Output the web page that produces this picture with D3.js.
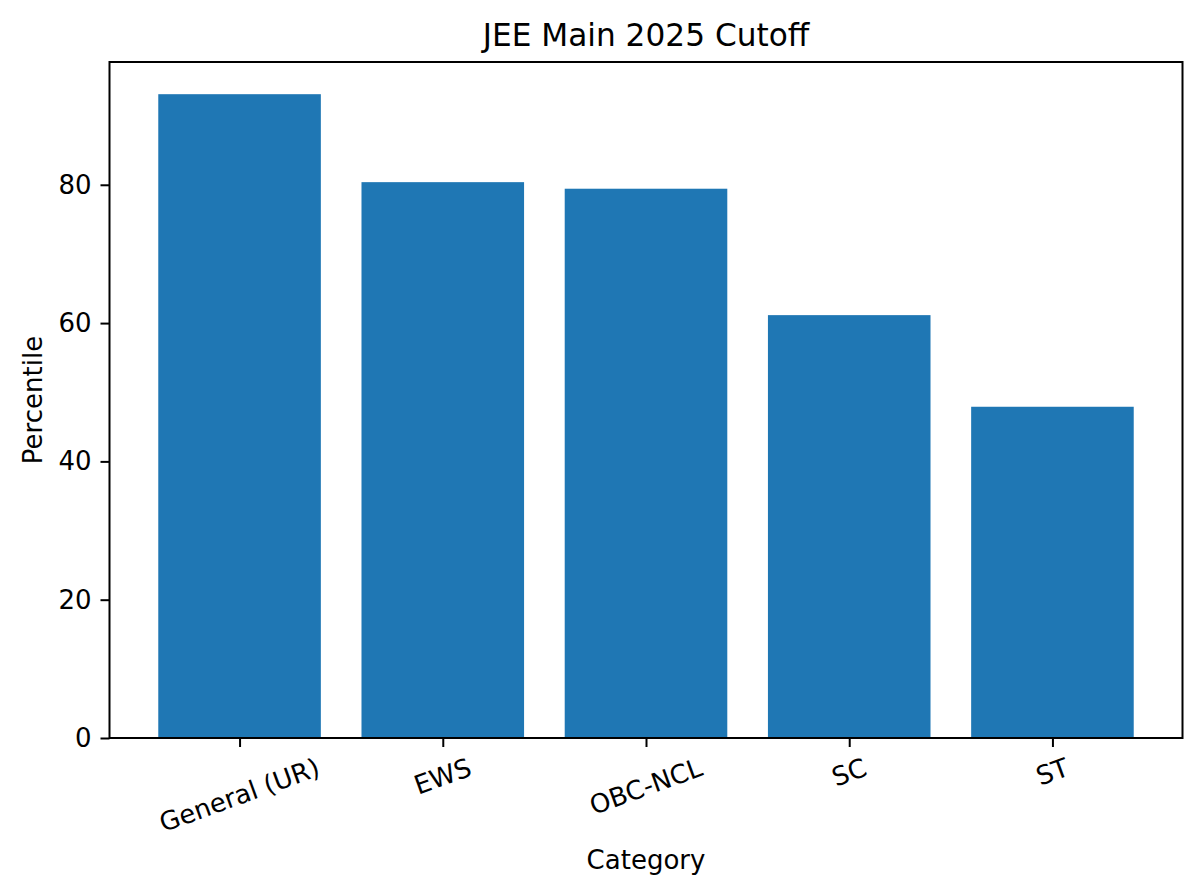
<!DOCTYPE html>
<html>
<head>
<meta charset="utf-8">
<script src="https://cdn.jsdelivr.net/npm/d3@7"></script>
<style>
  body { margin: 0; background: #fff; }
  text { font-family: "DejaVu Sans", sans-serif; fill: #000; }
  .axis path, .axis line { stroke: #000; stroke-width: 2px; }
  .axis text { font-size: 26px; }
</style>
</head>
<body>
<svg id="chart" width="1200" height="895"></svg>
<script>
const categories = ["General (UR)", "EWS", "OBC-NCL", "SC", "ST"];
const percentiles = [93.1, 80.38, 79.43, 61.15, 47.9];
const yTicks = [0, 20, 40, 60, 80];

const plotLeft = 109.5, plotRight = 1182.5, plotTop = 62, plotBottom = 738;
const fontSize = 26;

const svg = d3.select("#chart");

// matplotlib-like x range: bars at 0..n-1, width 0.8, 5% margins
const n = categories.length;
const pad = (n - 1 + 0.8) * 0.05;
const xScale = d3.scaleLinear()
    .domain([-0.4 - pad, n - 1 + 0.4 + pad])
    .range([plotLeft, plotRight]);

const yScale = d3.scaleLinear()
    .domain([0, d3.max(percentiles) * 1.05])
    .range([plotBottom, plotTop]);

// bars
svg.selectAll(".bar")
    .data(percentiles)
    .join("rect")
    .attr("class", "bar")
    .attr("x", (d, i) => xScale(i - 0.4))
    .attr("width", (d, i) => xScale(i + 0.4) - xScale(i - 0.4))
    .attr("y", d => yScale(d))
    .attr("height", d => yScale(0) - yScale(d))
    .attr("fill", "#1f77b4");

// y axis
const y_axis = d3.axisLeft(yScale).tickValues(yTicks).tickSize(9).tickPadding(9);
svg.append("g")
    .attr("class", "axis")
    .attr("transform", `translate(${plotLeft},0)`)
    .call(y_axis)
    .call(g => g.select(".domain").remove());

// x axis
const x_axis = d3.axisBottom(xScale)
    .tickValues(d3.range(n))
    .tickFormat(i => categories[i])
    .tickSize(9);
const xg = svg.append("g")
    .attr("class", "axis")
    .attr("transform", `translate(0,${plotBottom})`)
    .call(x_axis)
    .call(g => g.select(".domain").remove());

// rotated labels, top of rotated box just under the tick (like va="top")
const ang = 20 * Math.PI / 180;
const boxH = 0.97 * fontSize;
xg.selectAll(".tick text")
    .attr("y", 0)
    .attr("dy", "0.275em")
    .attr("text-anchor", "middle")
    .attr("transform", function () {
        const w = this.getComputedTextLength();
        const cy = 18.2 + (w * Math.sin(ang) + boxH * Math.cos(ang)) / 2;
        return `translate(0,${cy}) rotate(-20)`;
    });

// frame
svg.append("rect")
    .attr("x", plotLeft)
    .attr("y", plotTop)
    .attr("width", plotRight - plotLeft)
    .attr("height", plotBottom - plotTop)
    .attr("fill", "none")
    .attr("stroke", "#000")
    .attr("stroke-width", 2);

// labels
svg.append("text")
    .attr("x", (plotLeft + plotRight) / 2)
    .attr("y", 869)
    .attr("text-anchor", "middle")
    .attr("font-size", fontSize)
    .text("Category");

svg.append("text")
    .attr("transform", `translate(42,${(plotTop + plotBottom) / 2}) rotate(-90)`)
    .attr("text-anchor", "middle")
    .attr("font-size", fontSize)
    .text("Percentile");

// title
svg.append("text")
    .attr("x", (plotLeft + plotRight) / 2)
    .attr("y", 46)
    .attr("text-anchor", "middle")
    .attr("font-size", 31.2)
    .text("JEE Main 2025 Cutoff");
</script>
</body>
</html>
